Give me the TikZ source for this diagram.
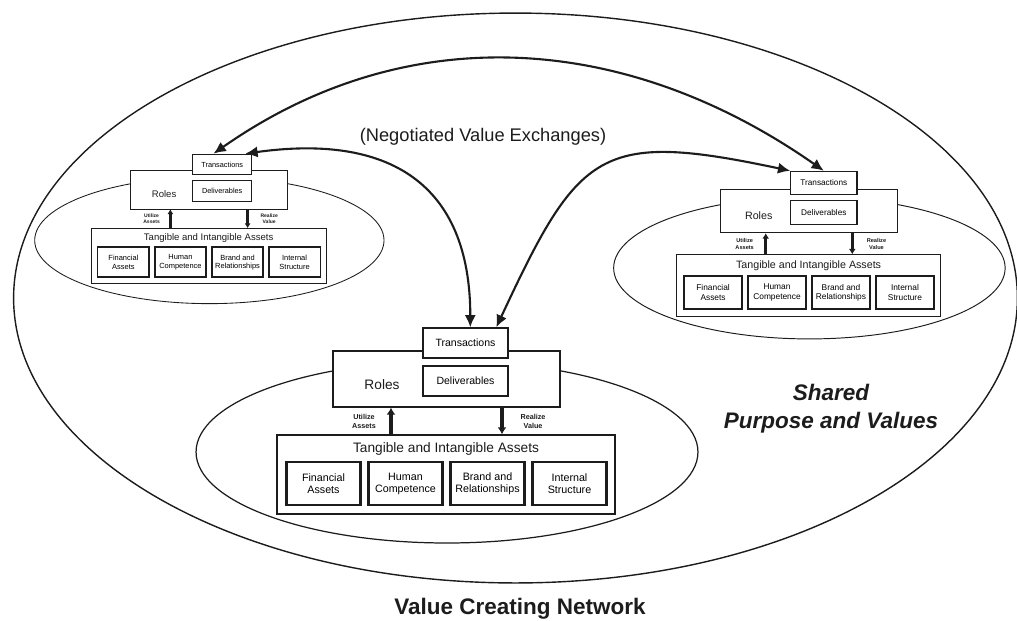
\documentclass[tikz,border=0pt]{standalone}
\usepackage{fontspec}
\setmainfont{Liberation Sans}
\usepackage{xcolor}
\definecolor{network-ink}{HTML}{1C1C1C}
\definecolor{network-paper}{HTML}{FFFFFF}
\usepackage{tikz}
\usetikzlibrary{arrows.meta}

\tikzset{
    plainbox/.style={draw=network-ink, fill=network-paper, inner sep=1pt, align=center},
    rolesbox/.style={plainbox, minimum width=4.54cm, minimum height=1.12cm},
    dealbox/.style={plainbox, minimum width=1.7cm, minimum height=0.6cm, font=\fontsize{6}{7}\selectfont},
    assetbox/.style={plainbox, minimum width=6.76cm, minimum height=1.58cm},
    assetpart/.style={plainbox, minimum width=1.48cm, minimum height=0.86cm, font=\fontsize{6.1}{6.8}\selectfont},
    boxtitle/.style={inner sep=0pt, text=network-ink, font=\fontsize{7.8}{9}\selectfont},
    flowlabel/.style={inner sep=0pt, align=center, text=network-ink, font=\bfseries\fontsize{4.1}{5.1}\selectfont},
    flow/.style={draw=network-ink, -{Latex[length=0pt 1.7, width=0pt 2.2]}},
    exchange/.style={draw=network-ink, line width=1.2pt, >={Latex[length=7pt, width=6.4pt]}, <->},
}

% One firm: roles, deliverables, transactions and assets
\newcommand{\valuecluster}[3]{%
    \begin{scope}[shift={#2}, scale=#3, transform shape, line width=#3*0.8pt]
        % Field
        \draw[draw=network-ink, line width=#3*0.7pt] (0.5,-73) ellipse [x radius=5.02cm, y radius=1.82cm];
        % Roles
        \node[rolesbox] (#1-roles) at (0,0) {};
        \node[boxtitle] (#1-rolename) at (-64.5,-6) {Roles};
        \node[dealbox] (#1-deliv) at (19,-2) {Deliverables};
        \node[dealbox] (#1-trans) at (19,36) {Transactions};
        % Assets
        \node[assetbox] (#1-assets) at (-0.5,-95.5) {};
        \node[boxtitle] (#1-assetname) at (-0.5,-70) {Tangible and Intangible Assets};
        \foreach \x/\part [count=\i] in {-123/{Financial\\Assets}, -41/{Human\\Competence}, 41/{Brand and\\Relationships}, 123/{Internal\\Structure}}
            \node[assetpart, line width=#3*1.3pt] (#1-part\i) at (\x,-104.5) {\part};
        % Flows
        \draw[flow, line width=#3*2.3pt] (#1-assets.north -| -55.5,0) -- (#1-roles.south -| -55.5,0);
        \draw[flow, line width=#3*2.3pt] (#1-roles.south -| 55.5,0) -- (#1-assets.north -| 55.5,0);
        \node[flowlabel] (#1-use) at (-82.5,-42) {Utilize\\Assets};
        \node[flowlabel] (#1-gain) at (86.5,-42) {Realize\\Value};
    \end{scope}}

\begin{document}
\begin{tikzpicture}[x=0.02cm, y=0.02cm]
    \useasboundingbox (0,0) rectangle (1017,-620);

    % Network
    \draw[draw=network-ink, line width=0.8pt] (515.5,-298) ellipse [x radius=10.04cm, y radius=5.7cm];

    % Firms
    \valuecluster{left}{(209,-189.5)}{0.696}
    \valuecluster{right}{(809,-211)}{0.78}
    \valuecluster{main}{(446.5,-379)}{1}

    % Exchanges
    \draw[exchange] (left-trans.129) to[out=35, in=145] (right-trans.north);
    \draw[exchange] (left-trans.25) to[out=8, in=90, looseness=1.3] (main-trans.73);
    \draw[exchange] (main-trans.27) to[out=65, in=168, looseness=1.5] (right-trans.north west);

    % Texts
    \node[text=network-ink, font=\fontsize{10.4}{12}\selectfont] (exchanges) at (483,-137) {(Negotiated Value Exchanges)};
    \node[text=network-ink, align=center, font=\bfseries\itshape\fontsize{12.8}{15.9}\selectfont] (purpose) at (831,-409) {Shared\\Purpose and Values};
    \node[text=network-ink, anchor=base, inner sep=0pt, font=\bfseries\fontsize{12.8}{15}\selectfont] (network) at (520,-614) {Value Creating Network};

\end{tikzpicture}
\end{document}
